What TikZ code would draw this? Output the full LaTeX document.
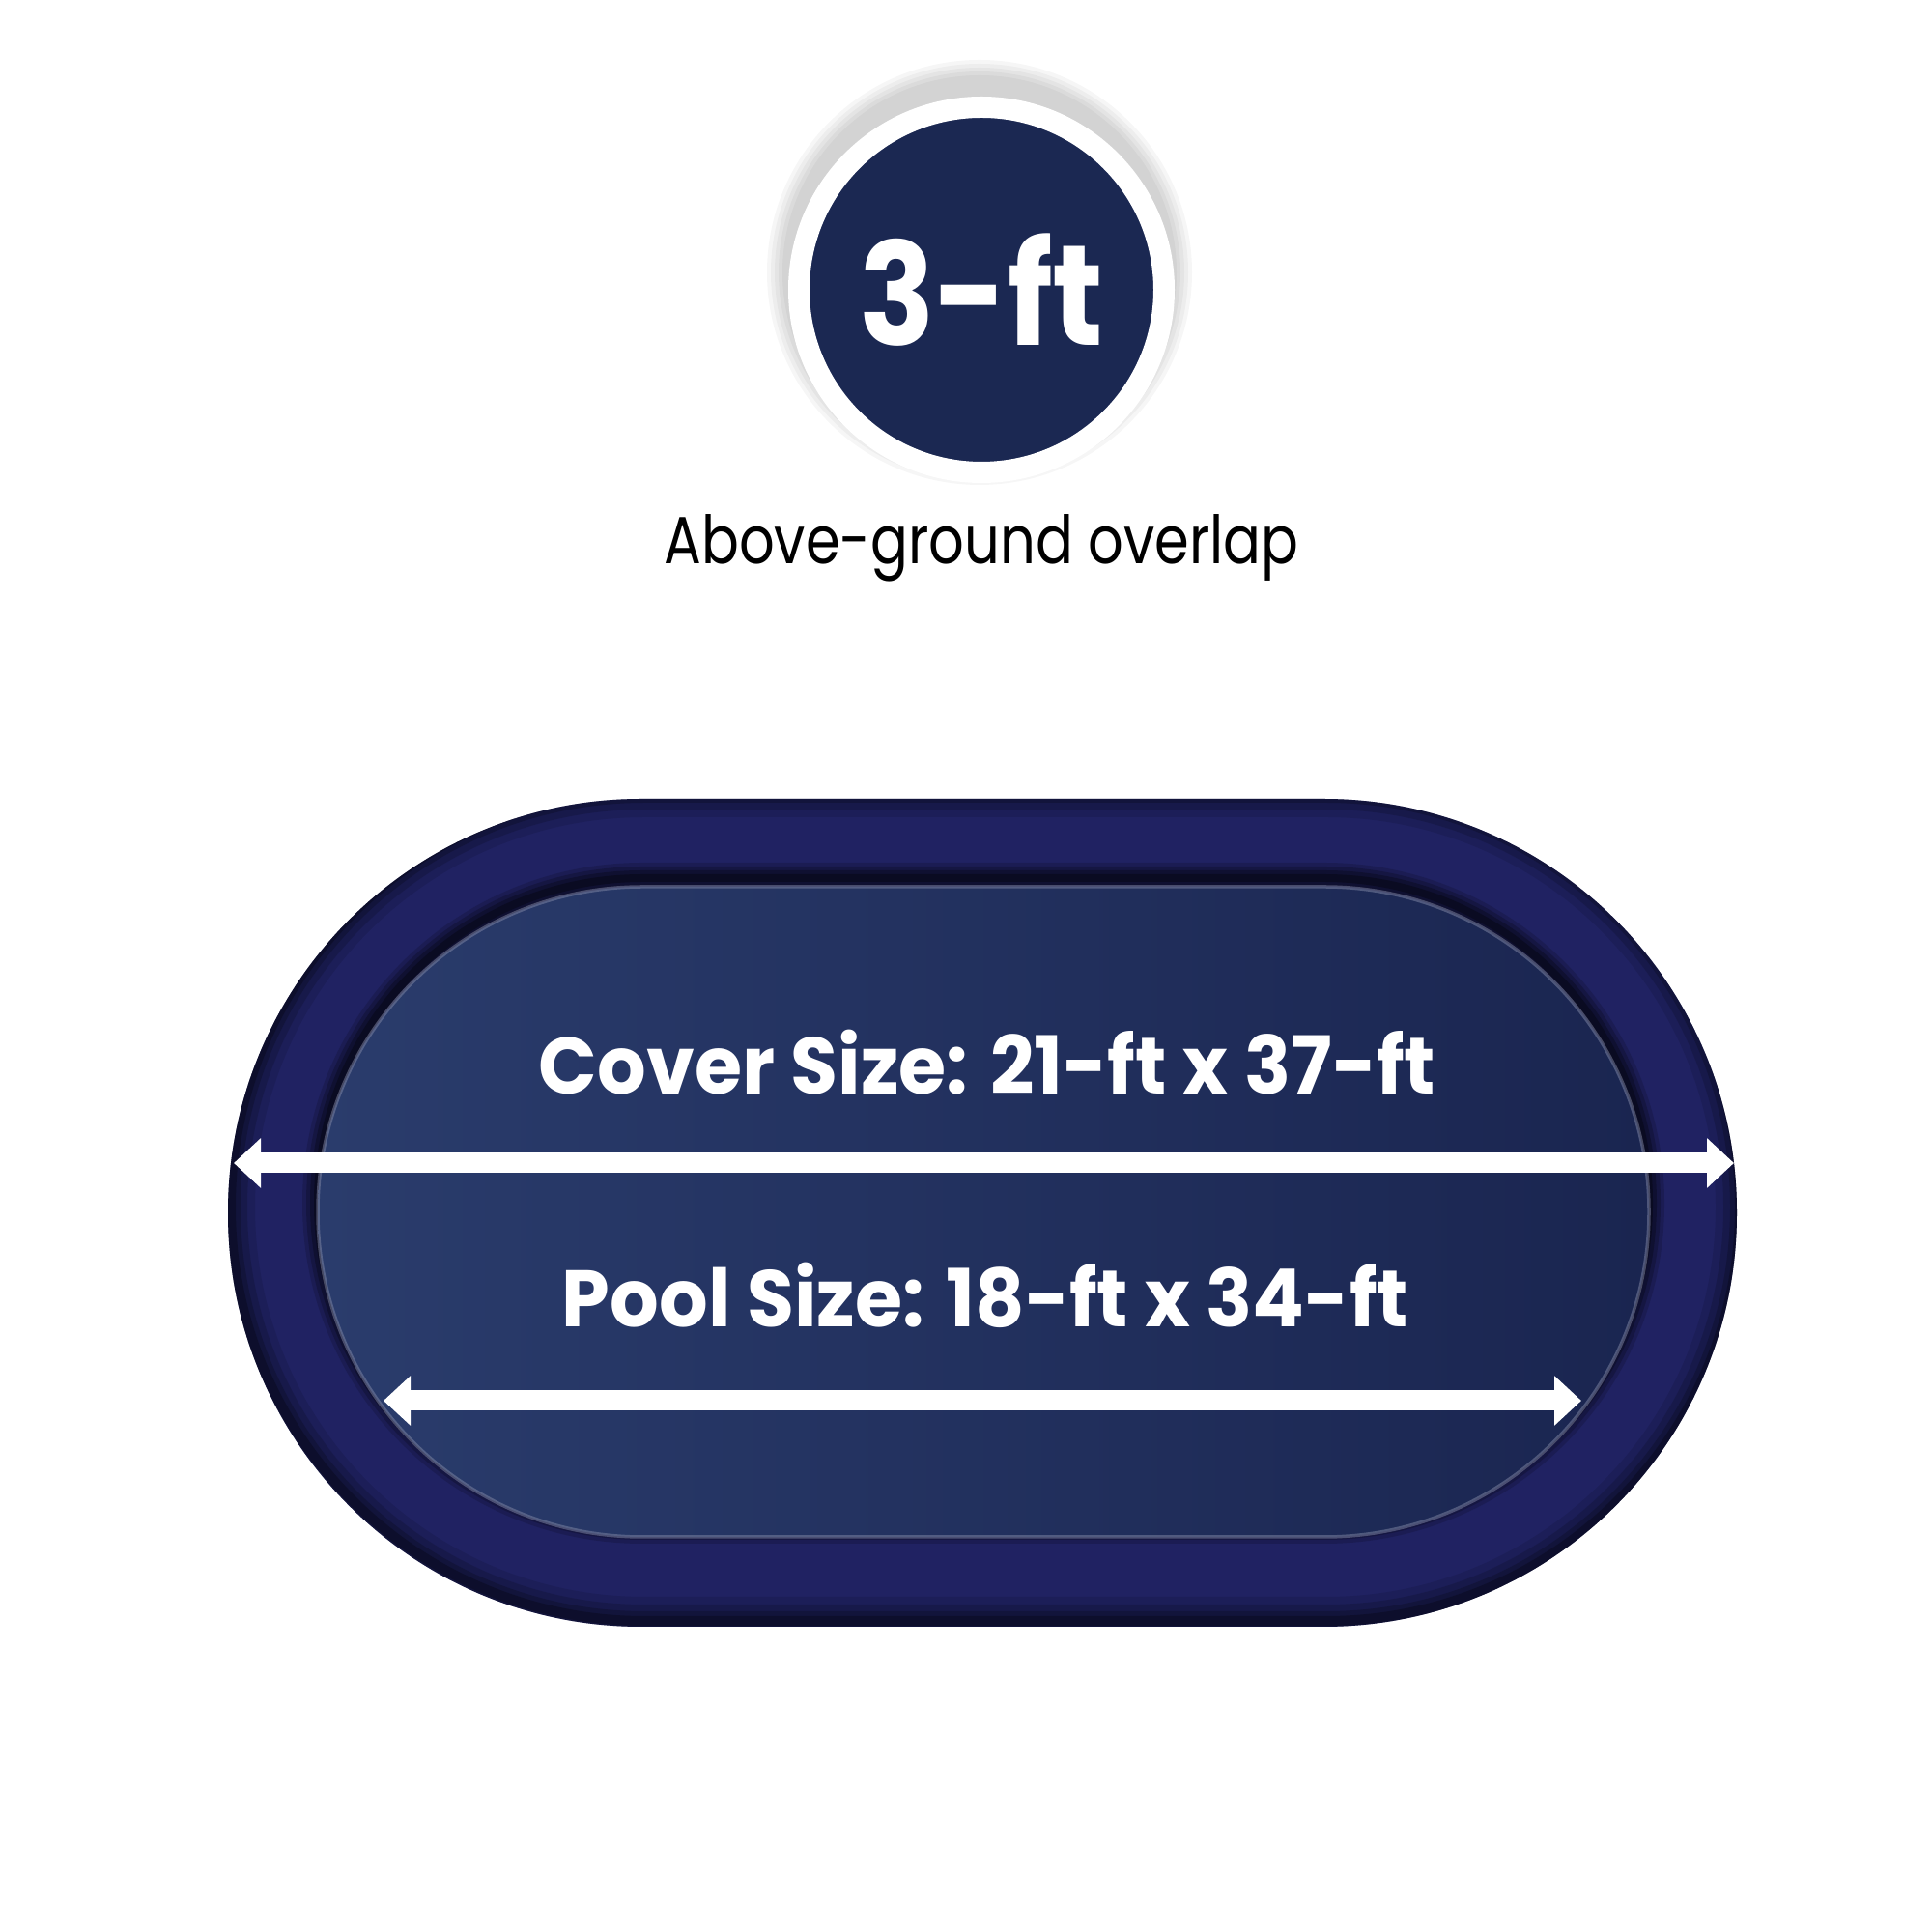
\documentclass[tikz,border=0pt]{standalone}
\usepackage{fontspec}
\setmainfont{Poppins}
\newfontfamily\badgefont[FakeStretch=0.88]{Poppins}
\newfontfamily\capfont[FakeStretch=0.835]{Poppins}
\newfontfamily\sizefont[FakeStretch=0.96]{Poppins}
\usepackage{tikz}
\usetikzlibrary{positioning,arrows.meta}

\definecolor{badgeblue}{RGB}{27,40,82}
\definecolor{ringblue}{RGB}{32,34,98}
\definecolor{poolleft}{RGB}{42,60,108}
\definecolor{poolright}{RGB}{26,37,80}
\definecolor{rimgray}{RGB}{130,136,165}

\tikzset{
  sizelabel/.style={text=white, anchor=base, font=\sizefont\bfseries\fontsize{23.6}{28}\selectfont},
  measure/.style={white, line width=0.21cm,
    {Triangle[length=0.28cm,width=0.5cm]}-{Triangle[length=0.28cm,width=0.5cm]}},
  outerpool/.style={rounded corners=4.28cm},
  innerpool/.style={rounded corners=3.36cm},
}

\begin{document}
\begin{tikzpicture}[]
      \useasboundingbox (0,0) rectangle (20,20);
      \fill[white] (0,0) rectangle (20,20);

      % badge shadow
      \foreach \r in {2.20, 2.16, 2.12, 2.08, 2.04}{
        \fill[black, opacity=0.035] (10.14,17.18) circle (\r);
      }
      \node[circle, fill=badgeblue, draw=white, line width=0.22cm, minimum size=3.78cm, inner sep=0pt,
        text=white, font=\badgefont\bfseries\fontsize{42}{44}\selectfont] (badge) at (10.16,17.0) {3-ft};
      \node[anchor=base, font=\capfont\fontsize{19.6}{24}\selectfont] (caption)
        at ([yshift=-0.84cm]badge.south) {Above-ground overlap};

      % pool ring
      \fill[ringblue, outerpool] (2.36,3.16) rectangle (17.98,11.73);
      \begin{scope}
        \clip[outerpool] (2.36,3.16) rectangle (17.98,11.73);
        \foreach \w/\o in {0.5/0.10, 0.34/0.15, 0.2/0.2, 0.1/0.25}{
          \draw[black, opacity=\o, line width=\w cm, outerpool] (2.39,3.22) rectangle (18.01,11.79);
        }
        \foreach \w/\o in {0.32/0.15, 0.24/0.2, 0.16/0.25, 0.08/0.3}{
          \draw[black, opacity=\o, line width=\w cm, innerpool] (3.29,4.18) rectangle (17.07,10.91);
        }
      \end{scope}
      \shade[innerpool, left color=poolleft, right color=poolright] (3.29,4.09) rectangle (17.07,10.82);
      \draw[innerpool, rimgray, opacity=0.5, line width=0.035cm] (3.29,4.09) rectangle (17.07,10.82);

      \node[sizelabel] (cover) at (10.22,8.67) {Cover Size: 21-ft x 37-ft};
      \node[sizelabel] (poolsize) at (10.20,6.26) {Pool Size: 18-ft x 34-ft};

      \coordinate (coverL) at (2.42,7.96);
      \coordinate (coverR) at (17.95,7.96);
      \coordinate (poolL) at (3.97,5.50);
      \coordinate (poolR) at (16.37,5.50);
      \draw[measure] (coverL) -- (coverR);
      \draw[measure] (poolL) -- (poolR);
\end{tikzpicture}
\end{document}
